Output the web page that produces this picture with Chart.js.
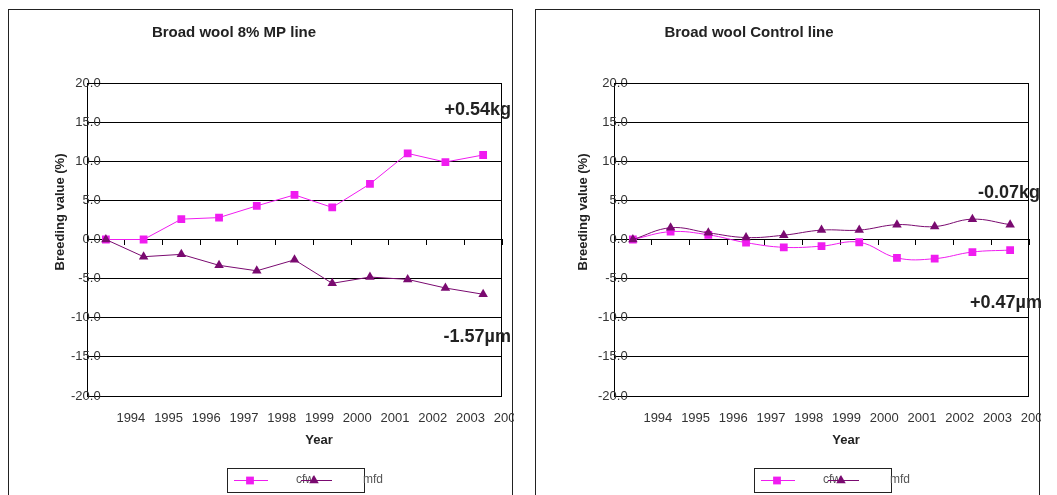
<!DOCTYPE html>
<html>
<head>
<meta charset="utf-8">
<script src="https://cdn.jsdelivr.net/npm/chart.js@4/dist/chart.umd.min.js"></script>
<style>
  body { margin: 0; background: #fff; width: 1057px; height: 495px; overflow: hidden; position: relative; }
  canvas { position: absolute; top: 9px; }
  .frame { position: absolute; top: 9px; width: 505px; height: 500px; border: 1px solid #222; box-sizing: border-box; pointer-events: none; }
</style>
</head>
<body>
<div class="frame" style="left: 8px"></div>
<div class="frame" style="left: 535px"></div>
<canvas id="mpChart" width="506" height="486" style="left: 8px"></canvas>
<canvas id="controlChart" width="506" height="486" style="left: 535px"></canvas>
<script>
const tickYears = ['1994', '1995', '1996', '1997', '1998', '1999', '2000', '2001', '2002', '2003', '2004']

const mpCfw = [0, 0, 2.6, 2.8, 4.3, 5.7, 4.1, 7.1, 11.0, 9.9, 10.8]
const mpMfd = [0, -2.2, -1.9, -3.3, -4.0, -2.6, -5.6, -4.8, -5.1, -6.2, -7.0]

const controlCfw = [0, 1.0, 0.6, -0.4, -1.0, -0.85, -0.35, -2.35, -2.45, -1.6, -1.35]
const controlMfd = [0, 1.5, 0.85, 0.25, 0.55, 1.2, 1.2, 1.9, 1.65, 2.6, 1.9]

const FONT = '"Liberation Sans", Arial, sans-serif'
const PINK = '#f01cf0'
const PURPLE = '#7a0a70'

// titles, axis names, change notes and the little legend box
const textPlugin = {
  id: 'texts',
  beforeDatasetsDraw(chart) {
    const { ctx, chartArea } = chart
    ctx.save()
    ctx.strokeStyle = '#000'
    ctx.lineWidth = 1
    ctx.beginPath()
    ctx.moveTo(chartArea.left, chartArea.top + 0.5)
    ctx.lineTo(chartArea.right - 0.5, chartArea.top + 0.5)
    ctx.lineTo(chartArea.right - 0.5, chartArea.bottom)
    ctx.stroke()
    ctx.restore()
  },
  afterDraw(chart, args, opts) {
    const ctx = chart.ctx
    ctx.save()
    ctx.fillStyle = '#222'
    ctx.textBaseline = 'middle'

    ctx.font = 'bold 15px ' + FONT
    ctx.textAlign = 'center'
    ctx.fillText(opts.title, opts.titleX, 24)

    ctx.font = 'bold 13px ' + FONT
    ctx.fillText('Year', 311, 431)

    ctx.save()
    ctx.translate(opts.yTitleX, 203)
    ctx.rotate(-Math.PI / 2)
    ctx.fillText('Breeding value (%)', 0, 0)
    ctx.restore()

    ctx.font = 'bold 18px ' + FONT
    ctx.textAlign = 'right'
    ctx.fillText(opts.topNote, opts.topNoteX, opts.topNoteY)
    ctx.fillText(opts.bottomNote, opts.bottomNoteX, opts.bottomNoteY)

    // legend
    ctx.strokeStyle = '#222'
    ctx.lineWidth = 1
    ctx.strokeRect(219.5, 459.5, 137, 24)
    const ds = chart.data.datasets
    const items = [
      { d: ds[0], x1: 226, x2: 260, px: 242, tx: 288 },
      { d: ds[1], x1: 293, x2: 324, px: 306, tx: 355 }
    ]
    ctx.font = '12px ' + FONT
    ctx.textAlign = 'left'
    items.forEach(it => {
      ctx.fillStyle = '#555'
      ctx.fillText(it.d.label, it.tx, 471)
    })
    items.forEach(it => {
      ctx.strokeStyle = it.d.borderColor
      ctx.beginPath()
      ctx.moveTo(it.x1, 471.5)
      ctx.lineTo(it.x2, 471.5)
      ctx.stroke()
      ctx.fillStyle = it.d.backgroundColor
      Chart.helpers.drawPoint(ctx, {
        pointStyle: it.d.pointStyle, radius: it.d.pointRadius, rotation: 0, borderWidth: 0
      }, it.px, 471.5)
    })
    ctx.restore()
  }
}

const draw = (id, cfw, mfd, tension, notes) => {
  new Chart(document.getElementById(id).getContext('2d'), {
    type: 'line',
    data: {
      labels: tickYears,
      datasets: [
        {
          label: 'cfw', data: cfw, order: 2, tension: tension,
          borderColor: PINK, backgroundColor: PINK, borderWidth: 1,
          pointStyle: 'rect', pointRadius: 5.5, pointBorderWidth: 0
        },
        {
          label: 'mfd', data: mfd, order: 1, tension: tension,
          borderColor: PURPLE, backgroundColor: PURPLE, borderWidth: 1,
          pointStyle: 'triangle', pointRadius: 5.5, pointBorderWidth: 0
        }
      ]
    },
    options: {
      responsive: false,
      animation: false,
      events: [],
      layout: { padding: { left: 49, right: 12, top: 74, bottom: 59 } },
      plugins: { legend: { display: false }, tooltip: { enabled: false }, texts: notes },
      scales: {
        x: {
          type: 'category',
          offset: true,
          grid: { display: false },
          border: { display: false },
          ticks: {
            autoSkip: false, maxRotation: 0, padding: 7, labelOffset: 25,
            color: '#333', font: { family: FONT, size: 13 }
          },
          afterFit: scale => { scale.height = 40 }
        },
        zeroAxis: {
          axis: 'x',
          type: 'category',
          position: { y: 0 },
          offset: true,
          grid: { offset: true, drawOnChartArea: false, drawTicks: true, tickLength: 5, color: '#000' },
          border: { display: true, color: '#000' },
          ticks: { display: false, autoSkip: false }
        },
        y: {
          min: -20,
          max: 20,
          grid: { color: '#000', drawTicks: false },
          border: { color: '#000' },
          ticks: {
            // mirrored so the labels may run across the axis line, as in the original
            mirror: true, crossAlign: 'far', padding: -16,
            stepSize: 5,
            color: '#333', font: { family: FONT, size: 13 },
            callback: v => v.toFixed(1)
          },
          afterFit: scale => { scale.width = 30 }
        }
      }
    },
    plugins: [textPlugin]
  })
}

draw('mpChart', mpCfw, mpMfd, 0, {
  title: 'Broad wool 8% MP line', titleX: 226, yTitleX: 52,
  topNote: '+0.54kg', topNoteX: 503, topNoteY: 101,
  bottomNote: '-1.57\u00b5m', bottomNoteX: 503, bottomNoteY: 328
})
draw('controlChart', controlCfw, controlMfd, 0.4, {
  title: 'Broad wool Control line', titleX: 214, yTitleX: 48,
  topNote: '-0.07kg', topNoteX: 505, topNoteY: 184,
  bottomNote: '+0.47\u00b5m', bottomNoteX: 507, bottomNoteY: 294
})
</script>
</body>
</html>
